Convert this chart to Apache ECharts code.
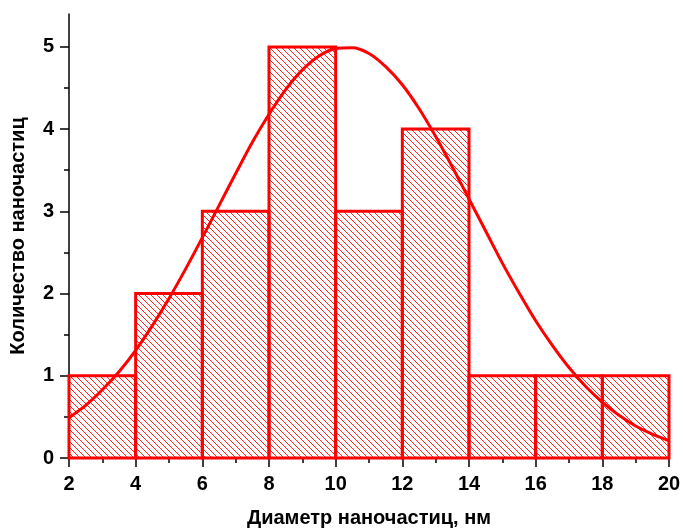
<!DOCTYPE html>
<html>
<head>
<meta charset="utf-8">
<script src="https://cdn.jsdelivr.net/npm/echarts@6/dist/echarts.min.js"></script>
<style>
html, body { margin: 0; padding: 0; background: #fff; }
#chart { width: 683px; height: 528px; }
</style>
</head>
<body>
<div id="chart"></div>
<script>
// гистограмма: границы интервалов и число частиц
const binEdges = [2, 4, 6, 8, 10, 12, 14, 16, 18, 20];
const counts = [1, 2, 3, 5, 3, 4, 1, 1, 1];

// кривая распределения (шаг 0.5 нм)
const fitX = [2, 2.5, 3, 3.5, 4, 4.5, 5, 5.5, 6, 6.5, 7, 7.5, 8, 8.5, 9, 9.5, 10, 10.5,
    11, 11.5, 12, 12.5, 13, 13.5, 14, 14.5, 15, 15.5, 16, 16.5, 17, 17.5, 18, 18.5, 19, 19.5, 20];
const fitY = [0.49, 0.64, 0.83, 1.05, 1.31, 1.61, 1.94, 2.30, 2.68, 3.07, 3.46, 3.84, 4.18, 4.48, 4.72, 4.89, 4.98, 4.99,
    4.92, 4.76, 4.54, 4.25, 3.91, 3.54, 3.15, 2.76, 2.37, 2.01, 1.67, 1.37, 1.10, 0.87, 0.68, 0.52, 0.39, 0.29, 0.21];

const yMajorTicks = [0, 1, 2, 3, 4, 5];
const yMinorTicks = [0.5, 1.5, 2.5, 3.5, 4.5];

const red = '#ff0000';
const font = 'Liberation Sans, Arial, sans-serif';

// штриховка "\\\"
function makeHatch() {
    const s = 6;
    const c = document.createElement('canvas');
    c.width = s;
    c.height = s;
    const ctx = c.getContext('2d');
    ctx.strokeStyle = 'rgba(255,0,0,0.85)';
    ctx.lineWidth = 1;
    for (let k = -1; k <= 1; k++) {
        ctx.beginPath();
        ctx.moveTo(k * s, 0);
        ctx.lineTo(k * s + s, s);
        ctx.stroke();
    }
    return c;
}
const hatch = { image: makeHatch(), repeat: 'repeat' };

const barData = counts.map((v, i) => [binEdges[i], binEdges[i + 1], v]);
const lineData = fitX.map((x, i) => [x, fitY[i]]);

const myChart = echarts.init(document.getElementById('chart'));

const option = {
    animation: false,
    grid: { left: 69, right: 14, top: 14, bottom: 70, outerBoundsMode: 'none', containLabel: false },
    xAxis: {
        type: 'value',
        min: 2,
        max: 20,
        interval: 2,
        name: 'Диаметр наночастиц, нм',
        nameLocation: 'middle',
        nameGap: 50,
        nameTextStyle: { fontFamily: font, fontWeight: 'bold', fontSize: 20, color: '#000' },
        axisLine: { show: true, lineStyle: { color: '#000', width: 1.5 } },
        axisTick: { show: true, inside: false, length: 9, lineStyle: { color: '#000', width: 1.5 } },
        minorTick: { show: true, splitNumber: 2, length: 5, lineStyle: { color: '#000', width: 1.5 } },
        axisLabel: { margin: 16, fontFamily: font, fontWeight: 'bold', fontSize: 20, color: '#000' },
        splitLine: { show: false },
        minorSplitLine: { show: false }
    },
    yAxis: [
        {
            type: 'value',
            min: 0,
            max: 5.4,
            name: 'Количество наночастиц',
            nameLocation: 'middle',
            nameGap: 41,
            nameTextStyle: { fontFamily: font, fontWeight: 'bold', fontSize: 20, color: '#000' },
            axisLine: { show: true, lineStyle: { color: '#000', width: 1.5 } },
            axisTick: { show: true, inside: false, length: 9, customValues: yMajorTicks, lineStyle: { color: '#000', width: 1.5 } },
            axisLabel: { margin: 15, customValues: yMajorTicks, fontFamily: font, fontWeight: 'bold', fontSize: 20, color: '#000' },
            splitLine: { show: false }
        },
        {
            type: 'value',
            min: 0,
            max: 5.4,
            position: 'left',
            axisLine: { show: false },
            axisTick: { show: true, inside: false, length: 5, customValues: yMinorTicks, lineStyle: { color: '#000', width: 1.5 } },
            axisLabel: { show: false },
            splitLine: { show: false }
        }
    ],
    series: [
        {
            type: 'custom',
            data: barData,
            encode: { x: [0, 1], y: 2 },
            z: 2,
            renderItem: function (params, api) {
                const p0 = api.coord([api.value(0), api.value(2)]);
                const p1 = api.coord([api.value(1), 0]);
                return {
                    type: 'rect',
                    shape: { x: p0[0], y: p0[1], width: p1[0] - p0[0], height: p1[1] - p0[1] },
                    style: { fill: hatch, stroke: red, lineWidth: 3 }
                };
            }
        },
        {
            type: 'line',
            data: lineData,
            smooth: 0.3,
            showSymbol: false,
            z: 3,
            lineStyle: { color: red, width: 3 }
        }
    ]
};

myChart.setOption(option);

window.addEventListener('resize', () => {
    myChart.resize();
});
</script>
</body>
</html>
